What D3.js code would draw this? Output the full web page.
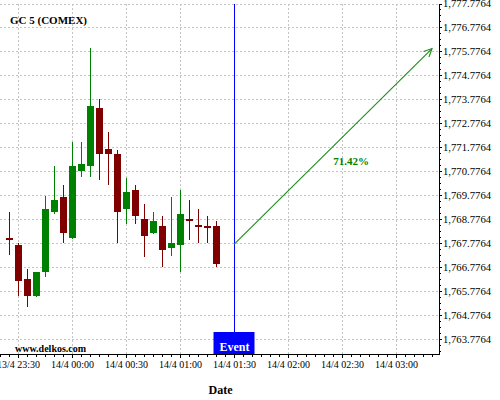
<!DOCTYPE html>
<html>
<head>
<meta charset="utf-8">
<script src="https://cdn.jsdelivr.net/npm/d3@7"></script>
<style>
  html, body { margin: 0; padding: 0; background: #ffffff; }
  svg { display: block; }
  text { font-family: "Liberation Serif", "Times New Roman", serif; }
</style>
</head>
<body>
<script>
// ---------------- data ----------------
const title = "GC 5 (COMEX)";
const watermark = "www.delkos.com";
const xTitle = "Date";
const times = ["2021-04-13 23:25","2021-04-13 23:30","2021-04-13 23:35","2021-04-13 23:40","2021-04-13 23:45","2021-04-13 23:50","2021-04-13 23:55",
  "2021-04-14 00:00","2021-04-14 00:05","2021-04-14 00:10","2021-04-14 00:15","2021-04-14 00:20","2021-04-14 00:25","2021-04-14 00:30",
  "2021-04-14 00:35","2021-04-14 00:40","2021-04-14 00:45","2021-04-14 00:50","2021-04-14 00:55","2021-04-14 01:00","2021-04-14 01:05",
  "2021-04-14 01:10","2021-04-14 01:15","2021-04-14 01:20"];
const open  = [1767.99,1767.71,1766.29,1765.58,1766.60,1769.08,1769.71,1768.01,1770.79,1771.01,1773.42,1771.71,1771.50,1769.22,1770.00,1768.79,1768.22,1768.50,1767.60,1767.72,1768.79,1768.54,1768.49,1768.50];
const high  = [1769.07,1767.78,1766.70,1766.60,1769.76,1771.00,1770.21,1771.99,1771.99,1775.91,1773.79,1772.41,1771.68,1770.49,1770.21,1769.42,1769.08,1768.91,1769.70,1770.00,1769.57,1769.20,1768.91,1768.71];
const low   = [1767.28,1765.57,1765.11,1765.56,1766.39,1768.99,1767.78,1767.98,1770.56,1770.56,1770.41,1770.21,1767.78,1768.58,1768.58,1767.20,1768.18,1766.78,1767.26,1766.58,1767.91,1767.78,1767.78,1766.78];
const close = [1767.95,1766.22,1765.60,1766.58,1769.21,1769.58,1768.22,1771.00,1771.08,1773.50,1771.51,1771.51,1769.10,1769.92,1768.93,1768.08,1768.71,1767.51,1767.79,1769.00,1768.72,1768.50,1768.42,1766.93];

const yTickValues = [1763.7764,1764.7764,1765.7764,1766.7764,1767.7764,1768.7764,1769.7764,1770.7764,1771.7764,1772.7764,1773.7764,1774.7764,1775.7764,1776.7764,1777.7764];
const xDomain = ["2021-04-13 23:20","2021-04-14 03:25"];
const yDomain = [1763.172, 1777.7764];

const eventTime = "2021-04-14 01:30";
const eventLabel = "Event";
const arrowStart = {t: "2021-04-14 01:30", v: 1767.74};
const arrowEnd   = {t: "2021-04-14 03:20", v: 1775.90};
const arrowLabel = "71.42%";
const arrowLabelPos = {t: "2021-04-14 02:35", v: 1771.05};

// ---------------- layout ----------------
const W = 500, H = 400;
const plotLeft = 0, plotRight = 439, plotTop = 3.5, plotBottom = 354;
const UP = "#008000", DOWN = "#800000";

const parse = d3.timeParse("%Y-%m-%d %H:%M");
const data = times.map((t, i) => ({t: parse(t), o: open[i], h: high[i], l: low[i], c: close[i]}));

const x = d3.scaleTime().domain(xDomain.map(parse)).range([0, 441]);
const y = d3.scaleLinear().domain(yDomain).range([plotBottom, plotTop]);

const svg = d3.select("body").append("svg").attr("width", W).attr("height", H);

// grid
const majorX = d3.timeMinute.every(30).range(parse(xDomain[0]), parse(xDomain[1])).filter(d => x(d) <= plotRight);
const minorX = d3.timeMinute.every(5).range(parse(xDomain[0]), d3.timeMinute.offset(parse(xDomain[1]), 1)).filter(d => x(d) <= plotRight);

const grid = svg.append("g").attr("stroke", "#c4c4c4").attr("stroke-dasharray", "2,2").attr("shape-rendering", "crispEdges");
grid.selectAll("line.h").data(yTickValues).join("line")
  .attr("x1", plotLeft).attr("x2", plotRight)
  .attr("y1", d => Math.round(y(d)) + 0.5).attr("y2", d => Math.round(y(d)) + 0.5);
grid.selectAll("line.v").data(majorX).join("line")
  .attr("x1", d => Math.round(x(d)) + 0.5).attr("x2", d => Math.round(x(d)) + 0.5)
  .attr("y1", plotTop).attr("y2", plotBottom);

// candles
const cw = 7;
const candles = svg.append("g").attr("shape-rendering", "crispEdges");
candles.selectAll("rect.wick").data(data).join("rect")
  .attr("x", d => Math.round(x(d.t)))
  .attr("width", 1)
  .attr("y", d => Math.round(y(d.h)))
  .attr("height", d => Math.max(1, Math.round(y(d.l)) - Math.round(y(d.h))))
  .attr("fill", d => d.c >= d.o ? UP : DOWN);
candles.selectAll("rect.body").data(data).join("rect")
  .attr("x", d => Math.round(x(d.t)) - 3)
  .attr("width", cw)
  .attr("y", d => Math.round(y(Math.max(d.o, d.c))))
  .attr("height", d => Math.max(2, Math.round(y(Math.min(d.o, d.c))) - Math.round(y(Math.max(d.o, d.c)))))
  .attr("fill", d => d.c >= d.o ? UP : DOWN);

// event line and box
const ex = Math.round(x(parse(eventTime))) + 0.5;
svg.append("line").attr("x1", ex).attr("x2", ex).attr("y1", plotTop).attr("y2", plotBottom)
  .attr("stroke", "#0000ff").attr("stroke-width", 1).attr("shape-rendering", "crispEdges");
svg.append("rect").attr("x", ex - 21).attr("y", plotBottom - 22).attr("width", 41).attr("height", 22)
  .attr("fill", "#0000ff");
svg.append("text").attr("x", ex).attr("y", plotBottom - 3.5).attr("text-anchor", "middle")
  .attr("font-size", 12).attr("font-weight", "bold").attr("fill", "#ffffff").text(eventLabel);

// arrow
const ax1 = x(parse(arrowStart.t)), ay1 = y(arrowStart.v);
const ax2 = x(parse(arrowEnd.t)), ay2 = y(arrowEnd.v);
const ang = Math.atan2(ay2 - ay1, ax2 - ax1);
const hl = 9, ha = Math.PI / 7;
const arrowG = svg.append("g").attr("stroke", "#1e8c1e").attr("stroke-width", 1.1).attr("fill", "none");
arrowG.append("line").attr("x1", ax1).attr("y1", ay1).attr("x2", ax2).attr("y2", ay2);
arrowG.append("path").attr("d",
  `M${ax2 - hl * Math.cos(ang - ha)},${ay2 - hl * Math.sin(ang - ha)}L${ax2},${ay2}L${ax2 - hl * Math.cos(ang + ha)},${ay2 - hl * Math.sin(ang + ha)}`);
svg.append("text").attr("x", x(parse(arrowLabelPos.t))).attr("y", y(arrowLabelPos.v))
  .attr("text-anchor", "middle").attr("font-size", 11).attr("font-weight", "bold").attr("fill", "#008000")
  .text(arrowLabel);

// x axis
const xAxisG = svg.append("g").attr("transform", `translate(0,${plotBottom})`);
xAxisG.append("g").call(d3.axisBottom(x).tickValues(minorX).tickSize(3).tickFormat(""))
  .call(g => g.select(".domain").remove());
xAxisG.append("g").call(d3.axisBottom(x).tickValues(majorX).tickSize(4).tickSizeOuter(0)
    .tickFormat(d3.timeFormat("%-d/%-m %H:%M")))
  .call(g => g.select(".domain").remove())
  .call(g => g.selectAll("text").attr("y", 14).attr("dy", 0)
    .attr("font-size", 10).attr("font-family", "Liberation Serif, serif").attr("fill", "#000"));
xAxisG.append("line").attr("x1", plotLeft).attr("x2", plotRight + 0.5).attr("y1", 0.5).attr("y2", 0.5)
  .attr("stroke", "#000").attr("shape-rendering", "crispEdges");
xAxisG.selectAll(".tick line").attr("shape-rendering", "crispEdges");

// y axis
const minorY = d3.range(yDomain[0], yDomain[1] + 0.001, 0.25).map(d => d);
const minorYVals = d3.range(-3, 60).map(k => yTickValues[0] + k * 0.25).filter(v => v >= yDomain[0] && v <= yDomain[1] + 0.001);
const yAxisG = svg.append("g").attr("transform", `translate(${plotRight},0)`);
yAxisG.append("g").call(d3.axisRight(y).tickValues(minorYVals).tickSize(2).tickFormat(""))
  .call(g => g.select(".domain").remove());
yAxisG.append("g").call(d3.axisRight(y).tickValues(yTickValues).tickSize(3).tickPadding(1)
    .tickFormat(d3.format(",.4f")))
  .call(g => g.select(".domain").remove())
  .call(g => g.selectAll("text").attr("font-size", 10.7).attr("font-family", "Liberation Serif, serif").attr("fill", "#000"));
yAxisG.append("line").attr("x1", 0.5).attr("x2", 0.5).attr("y1", plotTop).attr("y2", plotBottom + 1)
  .attr("stroke", "#000").attr("shape-rendering", "crispEdges");
yAxisG.selectAll(".tick line").attr("shape-rendering", "crispEdges");

// texts
svg.append("text").attr("x", 10).attr("y", 24).attr("font-size", 11).attr("font-weight", "bold").attr("fill", "#000").text(title);
svg.append("text").attr("x", 15).attr("y", 351.5).attr("font-size", 10).attr("font-weight", "bold").attr("fill", "#000").text(watermark);
svg.append("text").attr("x", (plotLeft + plotRight) / 2 + 1).attr("y", 394).attr("text-anchor", "middle")
  .attr("font-size", 12).attr("font-weight", "bold").attr("fill", "#000").text(xTitle);
</script>
</body>
</html>
